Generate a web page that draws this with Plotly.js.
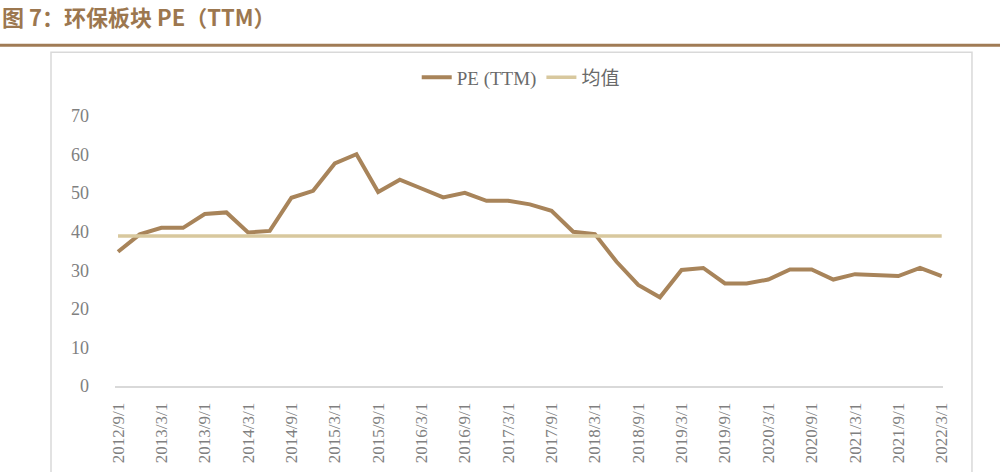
<!DOCTYPE html>
<html>
<head>
<meta charset="utf-8">
<script src="https://cdn.plot.ly/plotly-3.0.1.min.js"></script>
<style>
  html, body { margin: 0; padding: 0; background: #fff; }
  #chart { width: 1000px; height: 472px; }
</style>
</head>
<body>
<div id="chart"></div>
<script>
// quarterly PE (TTM) of the environmental sector
const dates = [
  "2012/9/1", "2012/12/1", "2013/3/1", "2013/6/1", "2013/9/1", "2013/12/1",
  "2014/3/1", "2014/6/1", "2014/9/1", "2014/12/1", "2015/3/1", "2015/6/1",
  "2015/9/1", "2015/12/1", "2016/3/1", "2016/6/1", "2016/9/1", "2016/12/1",
  "2017/3/1", "2017/6/1", "2017/9/1", "2017/12/1", "2018/3/1", "2018/6/1",
  "2018/9/1", "2018/12/1", "2019/3/1", "2019/6/1", "2019/9/1", "2019/12/1",
  "2020/3/1", "2020/6/1", "2020/9/1", "2020/12/1", "2021/3/1", "2021/6/1",
  "2021/9/1", "2021/12/1", "2022/3/1"
];
const pe = [
  34.8, 39.3, 41.0, 41.0, 44.6, 45.0,
  39.8, 40.2, 48.8, 50.6, 57.7, 60.1,
  50.3, 53.5, 51.2, 48.9, 50.1, 48.0,
  48.0, 47.1, 45.4, 40.0, 39.4, 32.2,
  26.2, 23.0, 30.1, 30.6, 26.6, 26.6,
  27.6, 30.2, 30.2, 27.6, 29.0, 28.8,
  28.5, 30.6, 28.5
];
const meanPE = 38.9;
const tickLabels = [
  "2012/9/1", "2013/3/1", "2013/9/1", "2014/3/1", "2014/9/1",
  "2015/3/1", "2015/9/1", "2016/3/1", "2016/9/1", "2017/3/1",
  "2017/9/1", "2018/3/1", "2018/9/1", "2019/3/1", "2019/9/1",
  "2020/3/1", "2020/9/1", "2021/3/1", "2021/9/1", "2022/3/1"
];

const serif = "Liberation Serif, Times New Roman, Noto Sans CJK SC, serif";

let peLine = {
  x: dates,
  y: pe,
  type: "scatter",
  mode: "lines",
  name: "PE (TTM)",
  line: {color: "#A8845A", width: 4},
};

let meanLine = {
  x: [dates[0], dates[dates.length - 1]],
  y: [meanPE, meanPE],
  type: "scatter",
  mode: "lines",
  name: "均值",
  line: {color: "#D8C89E", width: 3.5},
};

let layout = {
  width: 1000,
  height: 472,
  margin: {l: 115, r: 57, t: 116, b: 86},
  paper_bgcolor: "#fff",
  plot_bgcolor: "#fff",
  showlegend: true,
  title: {
    text: "<b>图 7：环保板块 PE（TTM）</b>",
    x: 0.002, xref: "container", xanchor: "left",
    y: 0.962, yref: "container", yanchor: "middle",
    font: {family: "Noto Sans CJK SC, sans-serif", size: 22, color: "#9C774F"},
  },
  legend: {
    orientation: "h",
    x: 0.49, xanchor: "center",
    y: 1.143, yanchor: "middle",
    font: {family: serif, size: 19, color: "#6a6a6a"},
    itemwidth: 30,
  },
  xaxis: {
    type: "category",
    range: [-0.14, 38.06],
    tickvals: tickLabels,
    ticktext: tickLabels,
    tickangle: -90,
    showgrid: false,
    zeroline: false,
    showline: true,
    linecolor: "#d9d9d9",
    linewidth: 2,
    ticks: "",
    ticklabelstandoff: 8,
    tickfont: {family: serif, size: 17, color: "#808080"},
  },
  yaxis: {
    range: [0, 70],
    dtick: 10,
    showgrid: false,
    zeroline: false,
    showline: false,
    ticks: "",
    ticklabelstandoff: 25,
    tickfont: {family: serif, size: 18, color: "#808080"},
  },
  shapes: [
    // brown rule under the figure title
    {type: "line", xref: "paper", yref: "paper", x0: -0.139, x1: 1.069, y0: 1.2616, y1: 1.2616,
     line: {color: "#A07B55", width: 3}},
    // light frame around the chart
    {type: "rect", xref: "paper", yref: "paper", x0: -0.0773, x1: 1.035, y0: -0.45, y1: 1.2357,
     line: {color: "#d9d9d9", width: 1.5}, layer: "below"},
  ],
};

Plotly.newPlot("chart", [peLine, meanLine], layout, {
  displaylogo: false,
  displayModeBar: false,
});
</script>
</body>
</html>
